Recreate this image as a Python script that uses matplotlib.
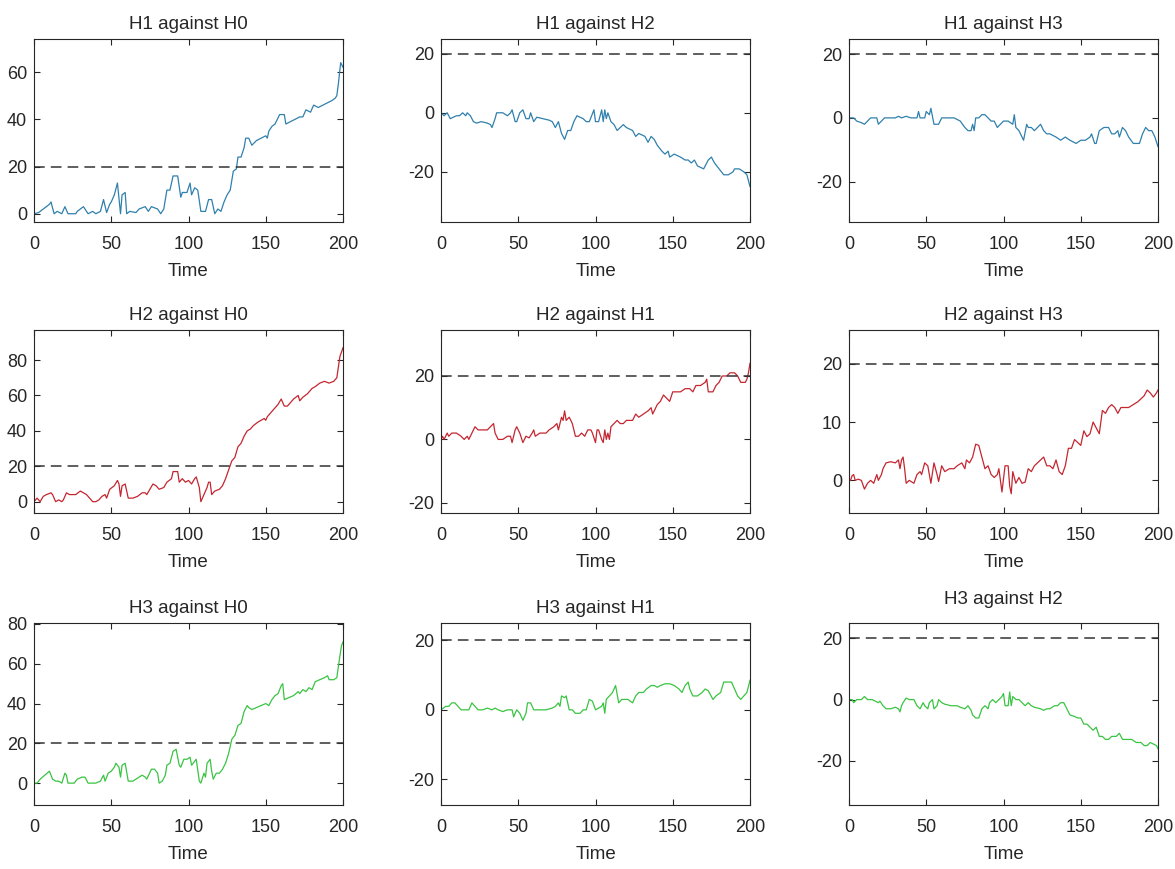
import matplotlib
matplotlib.use("Agg")
import matplotlib.pyplot as plt
from matplotlib import font_manager

# pick a narrow sans if available
names = {f.name for f in font_manager.fontManager.ttflist}
family = "Liberation Sans Narrow" if "Liberation Sans Narrow" in names else "Liberation Sans"
plt.rcParams["font.family"] = [family, "DejaVu Sans"]
plt.rcParams["axes.unicode_minus"] = False

# H1 against H0
t_10 = [0, 3, 6, 8, 10, 11, 13, 15, 18, 20, 22, 27, 28, 32, 35, 38, 40, 43, 45, 47, 49, 50, 52, 54, 56, 57, 59, 60,
        62, 66, 68, 72, 74, 76, 80, 82, 84, 86, 88, 90, 93, 95, 96, 99, 101, 102, 104, 106, 108, 111, 113, 115, 117,
        119, 121, 123, 125, 127, 129, 131, 132, 134, 136, 137, 139, 141, 144, 147, 150, 151, 152, 154, 156, 159, 162,
        163, 166, 169, 172, 174, 176, 179, 181, 184, 187, 190, 193, 195, 196, 197, 198.5, 200]
v_10 = [0, 0.5, 2, 3, 4, 5, 0, 1, 0, 3, 0, 0, 1, 3, 0, 1, 0, 1, 6, 0.5, 4, 5, 8, 13, 0, 8, 9, 0,
        1, 0.5, 2, 3, 1, 3, 2, 0, 2, 10, 10, 16, 16, 7, 9, 9, 13, 8, 11, 10, 1, 1, 6, 6, 0,
        2, 1, 5, 8, 10, 18, 19, 24, 24, 28, 32, 32, 29, 31, 32, 33, 32, 35, 37, 38, 42, 42,
        38, 39, 40, 41, 41, 44, 43, 46, 45, 46, 47, 48, 49, 50, 55, 64, 62]

# H1 against H2
t_12 = [0, 2, 4, 6, 8, 10, 12, 14, 16, 17, 19, 21, 23, 26, 30, 32, 33, 35, 36, 40, 43, 45, 46, 48, 49, 51, 53, 55,
        57, 58, 60, 62, 66, 70, 72, 74, 75, 76, 78, 80, 82, 84, 86, 88, 92, 94, 96, 99, 100, 102, 104, 105, 106, 107,
        108, 110, 112, 114, 116, 118, 120, 124, 126, 128, 132, 134, 136, 138, 140, 143, 145, 147, 148, 151, 155, 158,
        160, 162, 164, 166, 170, 171, 173, 175, 177, 180, 183, 186, 189, 190, 193, 196, 198, 200]
v_12 = [0, -1, 0, -2, -1.5, -1, -1, 0, -1, 0, -1, -3, -3.5, -3, -3.5, -4, -5, -2, 0, 0, -1, 0, 1, -3, -3, 0, 1, -2,
        -2, 0, -3, -1.5, -2, -2.5, -3, -5, -4, -3, -7, -9, -6, -6, -3, -1, -2, -3, -3, 1, -3, -3, 1, -3, 1, -2,
        0, -3, -4, -6, -5, -4, -5, -6, -8, -7, -8, -10, -8, -9, -11, -13, -14, -13, -15, -14, -15, -16,
        -16, -17, -16, -18, -19, -18, -16, -15, -17, -19, -21, -21, -20, -19, -19, -20, -21, -25]

# H1 against H3
t_13 = [0, 3, 5, 8, 10, 12, 14, 16, 18, 19, 21, 23, 26, 30, 32, 34, 37, 40, 44, 45, 46, 49, 50, 52, 53, 55, 58, 60,
        64, 68, 72, 75, 77, 79, 80, 81, 82, 84, 86, 88, 90, 92, 94, 96, 98, 100, 103, 106, 107, 108, 110, 112, 113,
        115, 116, 118, 120, 122, 124, 126, 128, 130, 134, 137, 140, 143, 147, 150, 153, 156, 157, 159, 160, 162, 165,
        168, 170, 172, 174, 175, 177, 179, 181, 184, 188, 190, 192, 194, 196, 198, 200]
v_13 = [0, 0, -1, -1.5, -2, -1, 0, 0, 0, -2, -1, 0, 0, 0, 0.5, 0, 0.5, 0, 0, 2, 0, 0, 2, 1, 3, -2, -2, 0,
        0, 0, -1, -3, -4, -4, -2, -4, 0, 0, 1, 1, 0, -1, -1, -3, -2, -1, -1, -2, 1, -3, -4, -6, -7,
        -2, -3, -3, -4, -3, -2, -4, -5, -5, -6, -7, -6, -7, -8, -7, -7, -6, -5, -8, -8, -4, -3,
        -3, -5, -5, -4, -6, -3, -4, -6, -8, -8, -5, -3, -4, -4, -6, -9]

# H2 against H0
t_20 = [0, 2, 4, 6, 8, 11, 12, 14, 16, 18, 19, 21, 23, 25, 27, 30, 32, 34, 36, 38, 40, 42, 44, 46, 47, 49, 52, 54,
        55, 56, 57, 59, 61, 64, 67, 70, 72, 73, 75, 77, 79, 81, 84, 86, 89, 90, 93, 94, 96, 98, 100, 102, 104, 105,
        107, 108, 110, 112, 113, 114, 115, 117, 120, 122, 124, 126, 128, 130, 132, 134, 136, 138, 140, 142, 145, 147,
        149, 150, 151, 153, 156, 158, 160, 162, 164, 166, 168, 171, 172, 174, 177, 180, 182, 185, 188, 191, 194, 196,
        198, 200]
v_20 = [0, 2, 0, 3, 4, 5, 4, 0, 1, 0, 1, 5, 4, 4, 4, 6, 5, 4, 2, 0, 0, 1, 3, 4, 2, 7, 9, 12,
        10, 3, 9, 10, 2, 2, 3, 5, 5, 4, 7, 10, 9, 7, 8, 11, 13, 17, 17, 11, 13, 11, 12, 10, 13, 14,
        8, 0, 4, 8, 11, 11, 4, 6, 7, 9, 13, 18, 23, 25, 31, 33, 37, 40, 41, 43, 45, 46,
        47, 46, 48, 50, 53, 55, 58, 54, 54, 56, 58, 60, 57, 59, 61, 64, 65, 67, 68, 67, 68, 70,
        82, 87]

# H2 against H1
t_21 = [0, 1, 2, 4, 5, 7, 10, 13, 15, 17, 18, 20, 22, 24, 27, 30, 32, 34, 35, 37, 40, 43, 45, 46, 48, 49, 51, 53,
        55, 57, 59, 60, 61, 64, 68, 70, 73, 75, 76, 78, 79, 80, 81, 83, 85, 87, 89, 91, 93, 95, 97, 98, 100, 101,
        102, 104, 105, 106, 107, 108, 109, 110, 112, 114, 116, 118, 120, 122, 124, 126, 128, 131, 134, 136, 137, 140,
        142, 144, 146, 148, 150, 152, 155, 158, 161, 163, 165, 168, 171, 172, 173, 176, 178, 180, 182, 185, 187, 189,
        190, 192, 194, 197, 198, 199, 200]
v_21 = [0, 1, 0, 2, 1, 2, 2, 1, 0, 1, 0, 2, 4, 3, 3, 3, 4, 5, 2, 0, 0, 1, 1, -1, 3, 4, 2, -1,
        1, 0.5, 2, 3, 1, 2, 2, 3, 4, 5, 3, 7, 6, 9, 6, 7, 5, 1, 1, 2, 1, 3, 3, 2, -1, 3,
        3, 0, -1, 3, 0, 2, 0, 4, 5, 6, 5, 5, 6, 6, 6, 8, 7, 8, 9, 10, 8, 11,
        12, 14, 13, 12, 15, 15, 15, 16, 16, 15, 17, 17, 18, 19, 15, 15, 17, 18, 20, 20, 21, 21,
        21, 20, 18, 18, 19, 21, 24]

# H2 against H3
t_23 = [0, 1, 2, 3, 4, 6, 8, 10, 12, 14, 16, 18, 19, 21, 22, 24, 27, 30, 32, 33, 34, 35, 36, 37, 39, 42, 44, 46,
        47, 49, 51, 52, 53, 55, 56, 57, 58, 60, 62, 65, 68, 70, 73, 75, 76, 78, 80, 82, 84, 86, 88, 90, 92, 94,
        96, 97, 99, 101, 103, 104, 105, 106, 108, 110, 112, 114, 116, 118, 120, 122, 124, 126, 128, 130, 132, 134,
        136, 138, 140, 142, 144, 146, 148, 150, 152, 154, 156, 158, 160, 162, 164, 166, 168, 170, 172, 174, 176, 178,
        181, 184, 187, 189, 191, 193, 195, 197, 199, 200]
v_23 = [0, 0, 0.8, 1, 0, 0.2, 0, -1.5, -0.5, 0, -0.5, 1, 0, 1, 2, 3, 3.2, 3, 3.5, 2, 3.5, 4, 2, -0.5, 0, -0.5, 1, 1.5,
        1, 3, 2.5, 1, -0.5, 3, 2, 1, -0.2, 2.5, 1.5, 2, 2, 2.5, 3, 2, 3.5, 3, 4, 6.2, 6, 4, 2, 2.5, 1, 0.5,
        1, 2, -2, 2.5, 2.5, -1, -2.3, 1.5, -0.5, 0.5, -0.5, -0.3, 2, 1.5, 2.5, 3, 3.5, 4, 2.5, 2.5, 2, 3.5,
        1.5, 1, 2.5, 5.5, 5.5, 7, 6.5, 6, 8.5, 7.5, 8, 10, 9, 8, 12, 11.5, 12.5, 13, 12.5, 11.5, 12.5, 12.5,
        12.5, 13, 13.5, 14, 14.5, 15.5, 15, 14.3, 15, 15.5]

# H3 against H0
t_30 = [0, 2, 4, 7, 10, 12, 14, 16, 18, 20, 21, 22, 26, 28, 31, 33, 35, 38, 40, 43, 45, 46, 48, 50, 52, 53, 55, 56,
        57, 59, 61, 64, 66, 68, 70, 72, 73, 76, 78, 80, 81, 83, 85, 86, 88, 90, 92, 94, 95, 97, 99, 101, 102, 104,
        105, 107, 108, 110, 111, 112, 114, 115, 116, 118, 120, 122, 124, 126, 128, 130, 132, 134, 136, 138, 139, 141,
        144, 147, 150, 152, 154, 156, 158, 160, 161, 162, 165, 168, 171, 172, 174, 176, 178, 180, 182, 185, 188, 190,
        191, 194, 196, 198, 199, 200]
v_30 = [0, 0, 2, 4, 6, 2, 1, 1, 0, 5, 4, 0, 0, 2, 3, 3, 0, 0, 0, 1, 4, 1, 5, 6, 8, 10, 8, 3,
        9, 10, 1, 1, 2, 3, 4, 3, 2, 7, 7, 5, 0, 1, 4, 9, 10, 16, 17, 9, 8, 12, 12, 13, 9, 11,
        12, 1, 0, 5, 3, 10, 12, 6, 2, 5, 5, 7, 10, 15, 22, 24, 29, 30, 36, 39, 38, 37,
        38, 39, 40, 39, 42, 44, 45, 49, 50, 42, 43, 44, 46, 45, 47, 46, 48, 47, 51, 52, 53, 54,
        52, 52, 53, 64, 69, 71]

# H3 against H1
t_31 = [0, 3, 5, 7, 9, 11, 13, 15, 18, 20, 22, 24, 27, 30, 33, 35, 37, 40, 43, 46, 47, 49, 51, 53, 55, 56, 58, 60,
        64, 68, 72, 74, 76, 77, 78, 80, 81, 83, 85, 87, 90, 92, 94, 96, 98, 100, 102, 104, 105, 106, 107, 109, 111,
        113, 115, 117, 119, 121, 124, 126, 128, 131, 133, 136, 138, 140, 142, 145, 148, 151, 154, 156, 158, 160, 161,
        163, 166, 169, 171, 173, 176, 178, 181, 183, 186, 188, 190, 192, 194, 196, 198, 200]
v_31 = [0, 1, 1, 2, 2, 1, 0, 0, 0, 2, 1, 0, 0, 0.5, 0, 0.5, 0, -0.5, 0, 0, -2, 0, -1, -3, -1, 2, 2, 0,
        0, 0, 0.5, 1, 2, 1, 4, 3.5, 4, 0, 0, -1, -1, 0, 0, 3, 2.5, 0, 0.5, 1, 2, -1, 3, 4, 5,
        7, 2, 3, 3, 3, 2, 4, 5, 5, 6, 7, 7, 6.5, 7, 7.5, 7.5, 7, 6, 5, 7, 8, 6,
        4, 4, 5, 6, 5.5, 3, 4, 5, 8, 8, 8, 6, 4, 3, 4, 5, 8.5]

# H3 against H2
t_32 = [0, 2, 3, 5, 8, 10, 12, 15, 17, 19, 20, 22, 24, 27, 30, 32, 33, 34, 35, 37, 39, 42, 44, 46, 48, 49, 51, 52,
        54, 55, 57, 58, 60, 62, 66, 70, 72, 75, 77, 79, 80, 82, 84, 86, 88, 90, 91, 93, 95, 97, 99, 100, 101, 103,
        104, 105, 106, 108, 110, 112, 114, 116, 118, 120, 124, 126, 128, 130, 133, 135, 137, 139, 141, 143, 146, 148,
        150, 152, 154, 156, 158, 160, 162, 164, 166, 168, 170, 173, 175, 177, 180, 183, 186, 189, 191, 193, 195, 197,
        199, 200]
v_32 = [0, 0, -1, 0, 0, 1, 0, 0, -0.5, -1, -0.5, -2, -3, -3, -2.5, -3, -4, -2, -1, 0.5, 0, 0, -2, -3, -1, -2, -3, -1,
        0, -3, -2, 0, -1, -1.5, -2, -2, -2.5, -3, -2, -3.5, -5, -6, -6, -3, -2, -3, -1, 0, -1, 0, 1, 2, -2, -2,
        2.5, -2, 1, 0, 0, -1, -2, -1, -2, -2.5, -3, -3.5, -3, -3, -2, -2, -1, -1, -3, -5, -5.5, -6,
        -6, -8, -8, -9, -10, -9, -12, -12, -13, -13, -12, -12, -11, -13, -13, -13, -14, -14, -15, -15, -14, -14.5,
        -15, -16]

titles = [["H1 against H0", "H1 against H2", "H1 against H3"],
          ["H2 against H0", "H2 against H1", "H2 against H3"],
          ["H3 against H0", "H3 against H1", "H3 against H2"]]
series = [[(t_10, v_10), (t_12, v_12), (t_13, v_13)],
          [(t_20, v_20), (t_21, v_21), (t_23, v_23)],
          [(t_30, v_30), (t_31, v_31), (t_32, v_32)]]
row_colors = ["#3080ad", "#c42630", "#3ac443"]
threshold = 20

y_limits = [[(-3.5, 74), (-37, 25), (-32.6, 24.7)],
            [(-6.4, 97), (-23.2, 34.5), (-5.6, 25.8)],
            [(-11, 80.5), (-27.4, 25), (-34.4, 25)]]
y_ticks = [[[0, 20, 40, 60], [-20, 0, 20], [-20, 0, 20]],
           [[0, 20, 40, 60, 80], [-20, 0, 20], [0, 10, 20]],
           [[0, 20, 40, 60, 80], [-20, 0, 20], [-20, 0, 20]]]
title_pad = [[7, 7, 7], [7, 7, 7], [7, 7, 14]]

W, H = 1175, 869
fig = plt.figure(figsize=(W / 100, H / 100), dpi=100)

col_left = [34, 441, 849]
col_width = 309
row_top = [39, 330, 623]
row_bottom = [222, 513, 805]

ink = "#262626"
for r in range(3):
    for c in range(3):
        ax = fig.add_axes([col_left[c] / W, 1 - row_bottom[r] / H,
                           col_width / W, (row_bottom[r] - row_top[r]) / H])
        t, v = series[r][c]
        ax.plot(t, v, color=row_colors[r], lw=0.9)
        ax.axhline(threshold, color="#333333", lw=1.1, dashes=(7, 4))
        ax.set_xlim(0, 200)
        ax.set_ylim(*y_limits[r][c])
        ax.set_xticks([0, 50, 100, 150, 200])
        ax.set_yticks(y_ticks[r][c])
        ax.tick_params(direction="in", top=True, right=True, length=4, width=0.8,
                       labelsize=13, colors=ink)
        ax.tick_params(axis="x", pad=10)
        ax.tick_params(axis="y", pad=5)
        for s in ax.spines.values():
            s.set_color(ink)
            s.set_linewidth(0.8)
        ax.set_title(titles[r][c], fontsize=13.5, color=ink, pad=title_pad[r][c])
        ax.set_xlabel("Time", fontsize=13.5, color=ink, labelpad=7)

fig.savefig("out.png", dpi=100)
